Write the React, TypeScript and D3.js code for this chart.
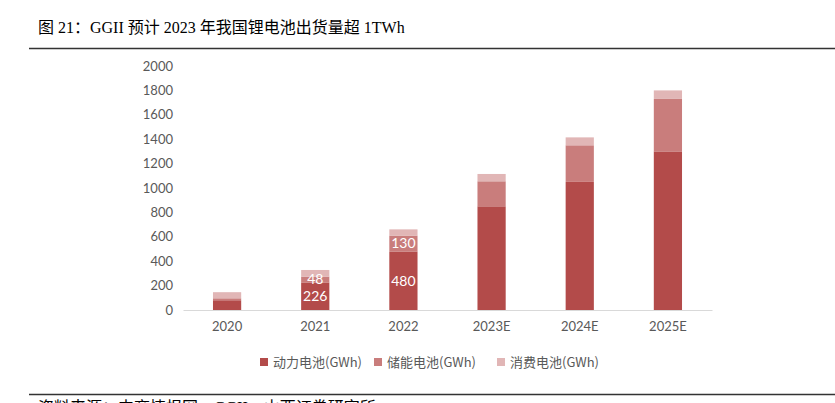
import { useEffect, useRef } from "react";
import * as d3 from "d3";

const years = ["2020", "2021", "2022", "2023E", "2024E", "2025E"];
const power = [80, 226, 480, 850, 1050, 1300];
const storage = [16, 48, 130, 205, 300, 430];
const consumer = [50, 54, 51, 60, 65, 70];
const seriesNames = ["动力电池(GWh)", "储能电池(GWh)", "消费电池(GWh)"];
const yTicks = [0, 200, 400, 600, 800, 1000, 1200, 1400, 1600, 1800, 2000];
// only these segments carry a label in the source
const labelled = [
  { year: "2021", key: 0 },
  { year: "2021", key: 1 },
  { year: "2022", key: 0 },
  { year: "2022", key: 1 },
];

const colors = ["#b34b4a", "#c97d7c", "#e1b6b6"];
const latin = "Lato, 'Noto Sans CJK SC', sans-serif";

const App = () => {
  const ref = useRef<SVGSVGElement>(null);

  useEffect(() => {
    if (!ref.current) return;
    const width = 835;
    const height = 403;
    const margin = { top: 66, right: 123, bottom: 93, left: 183 };

    const svg = d3.select(ref.current);
    svg.selectAll("*").remove();

    // title + rules
    svg
      .append("text")
      .attr("x", 38)
      .attr("y", 33)
      .attr("font-family", "'Liberation Serif', 'Noto Sans CJK SC', serif")
      .attr("font-size", 16)
      .attr("fill", "#000")
      .text("图 21：GGII 预计 2023 年我国锂电池出货量超 1TWh");

    svg
      .append("line")
      .attr("x1", 29)
      .attr("x2", width)
      .attr("y1", 48.5)
      .attr("y2", 48.5)
      .attr("stroke", "#333")
      .attr("stroke-width", 1.5);

    svg
      .append("line")
      .attr("x1", 29)
      .attr("x2", width)
      .attr("y1", 394.5)
      .attr("y2", 394.5)
      .attr("stroke", "#333")
      .attr("stroke-width", 1.5);

    // source line, cut by the bottom edge as in the original
    svg
      .append("text")
      .attr("x", 38)
      .attr("y", 413)
      .attr("font-family", "'Liberation Serif', 'Noto Sans CJK SC', serif")
      .attr("font-size", 16)
      .attr("fill", "#000")
      .text("资料来源：中商情报网，GGII，山西证券研究所");

    const x = d3
      .scaleBand()
      .domain(years)
      .range([margin.left, width - margin.right])
      .paddingInner(0.68)
      .paddingOuter(0.34);

    const y = d3
      .scaleLinear()
      .domain([0, 2000])
      .range([height - margin.bottom, margin.top]);

    const rows = years.map((yr, i) => ({
      year: yr,
      p: power[i],
      s: storage[i],
      c: consumer[i],
    }));
    const stack = d3.stack<any>().keys(["p", "s", "c"]);
    const layers = stack(rows);

    // y tick labels
    svg
      .append("g")
      .attr("transform", `translate(${margin.left}, 0)`)
      .call(
        d3
          .axisLeft(y)
          .tickValues(yTicks)
          .tickFormat(d3.format("d"))
          .tickSize(0)
          .tickPadding(10)
      )
      .call((g) => g.select(".domain").remove())
      .call((g) =>
        g
          .selectAll("text")
          .attr("font-family", latin)
          .attr("font-size", 13)
          .attr("fill", "#595959")
      );

    // x axis
    svg
      .append("g")
      .attr("transform", `translate(0, ${height - margin.bottom})`)
      .call(d3.axisBottom(x).tickSize(0).tickPadding(12).tickSizeOuter(0))
      .call((g) => g.select(".domain").attr("stroke", "#d9d9d9"))
      .call((g) =>
        g
          .selectAll("text")
          .attr("font-family", latin)
          .attr("font-size", 13)
          .attr("fill", "#595959")
      );

    layers.forEach((layer, k) => {
      svg
        .append("g")
        .selectAll("rect")
        .data(layer)
        .join("rect")
        .attr("x", (d) => x(d.data.year)!)
        .attr("width", x.bandwidth())
        .attr("y", (d) => y(d[1]))
        .attr("height", (d) => y(d[0]) - y(d[1]))
        .attr("fill", colors[k]);
    });

    // data labels
    labelled.forEach((l) => {
      const d = layers[l.key].find((e) => e.data.year === l.year)!;
      svg
        .append("text")
        .attr("x", x(l.year)! + x.bandwidth() / 2)
        .attr("y", y((d[0] + d[1]) / 2))
        .attr("dy", "0.35em")
        .attr("text-anchor", "middle")
        .attr("font-family", latin)
        .attr("font-size", 14)
        .attr("fill", "#fff")
        .text(d[1] - d[0]);
    });

    // legend
    const legendX = [260, 374, 497];
    seriesNames.forEach((name, i) => {
      const g = svg.append("g").attr("transform", `translate(${legendX[i]}, 362)`);
      g.append("rect")
        .attr("x", 0)
        .attr("y", -4)
        .attr("width", 8)
        .attr("height", 8)
        .attr("fill", colors[i]);
      g.append("text")
        .attr("x", 13)
        .attr("y", 0)
        .attr("dy", "0.35em")
        .attr("font-family", "'Noto Sans CJK SC', sans-serif")
        .attr("font-size", 13)
        .attr("fill", "#595959")
        .text(name);
    });
  }, []);

  return <svg ref={ref} width={835} height={403} style={{ display: "block", position: "absolute", left: 0, top: 0, background: "#fff" }} />;
};

export default App;
